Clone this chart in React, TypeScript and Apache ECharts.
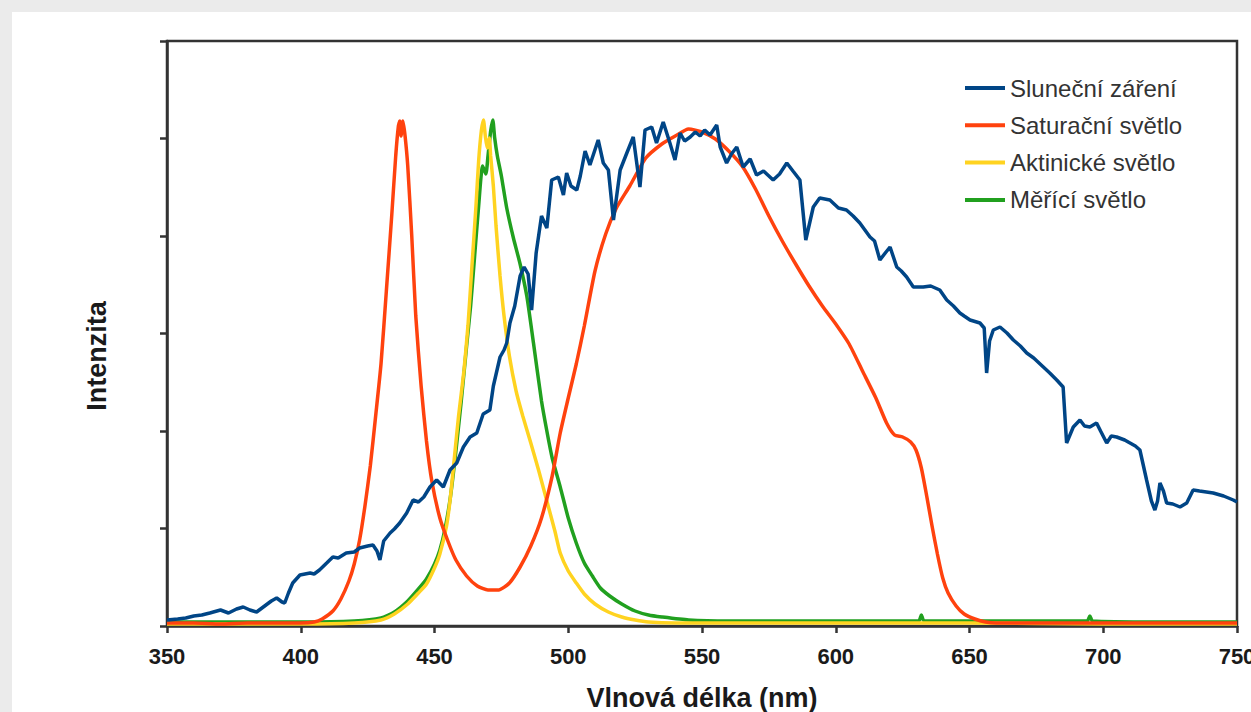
import React, { useEffect, useRef } from "react";
import * as echarts from "echarts";

// Wavelength ticks (nm)
const xTicks = [350, 400, 450, 500, 550, 600, 650, 700, 750];

const seriesNames = ["Sluneční záření", "Saturační světlo", "Aktinické světlo", "Měřící světlo"];

// Intensity (arbitrary units) vs wavelength [nm, value]
const sunData: [number, number][] = [
  [350, 6], [354, 7], [357, 8], [360, 10], [363, 11], [366, 13], [370, 16], [373, 13], [376, 17],
  [378.5, 19], [381, 16], [383.5, 14], [387, 21], [389, 25], [391, 28], [393, 24], [394, 23],
  [395.4, 33], [397, 43], [399.7, 51], [403.5, 53], [405, 52], [407, 56], [409.7, 63], [412, 69],
  [414, 68], [417, 73], [420, 74], [422, 78], [425, 80], [427, 81], [428.5, 75], [429.6, 66],
  [431, 85], [433.4, 93], [435, 97], [437, 103], [439.6, 113], [442, 126], [444, 124], [446, 129],
  [448.3, 139], [450.8, 146], [453.3, 139], [455.8, 156], [458.3, 163], [460.8, 179], [463.3, 189],
  [465.8, 193], [468.2, 212], [470.7, 216], [472, 240], [474.5, 269], [476, 276], [477, 283],
  [478.2, 303], [480, 320], [482, 350], [483.5, 359], [485, 352], [486.3, 316], [488, 373],
  [490, 410], [492, 398], [493.8, 446], [496.3, 449], [498.2, 431], [499.4, 453], [501, 440],
  [503.2, 436], [504.5, 450], [506.3, 475], [508.1, 461], [511.2, 486], [513.1, 463], [515, 456],
  [516.9, 406], [519.4, 456], [521.9, 473], [524.3, 489], [526.8, 439], [528.7, 496], [531.2, 499],
  [533, 483], [535.5, 504], [538, 483], [539.9, 466], [541.8, 493], [543.5, 485], [545.6, 489],
  [547.5, 494], [549.3, 490], [551, 496], [553, 491], [555.5, 501], [556.8, 479], [559.2, 463],
  [561, 472], [563, 479], [565.4, 459], [568, 467], [570.4, 451], [573, 455], [576.6, 446],
  [579, 452], [581.7, 463], [584, 455], [586.6, 446], [588.8, 386], [591.6, 419], [594, 428],
  [597.8, 426], [601, 418], [604, 416], [606.5, 410], [609, 403], [612.8, 389], [614.5, 385],
  [616.5, 366], [618.5, 373], [620.3, 379], [622.8, 359], [624.5, 355], [626.5, 349], [629, 339],
  [632.7, 339], [635.5, 340], [638.9, 336], [641.5, 326], [644, 320], [646.4, 313], [648, 310],
  [650.2, 306], [653.9, 303], [655.5, 298], [656.4, 253], [657.5, 285], [658.9, 296], [661.4, 299],
  [664, 293], [666.4, 286], [669, 280], [671.4, 273], [674, 268], [677.6, 259], [680, 253],
  [682.6, 246], [685, 239], [686.3, 183], [688.8, 199], [691.3, 206], [693, 200], [695, 199],
  [697.5, 203], [699, 195], [701.3, 183], [703, 190], [705, 189], [708, 186], [710, 183],
  [712, 180], [713.7, 176], [716.2, 146], [718, 125], [719.3, 116], [720.3, 125], [721.2, 143],
  [722.5, 135], [723.7, 123], [726, 122], [728.7, 119], [731.2, 123], [733.6, 136], [736, 135],
  [741.1, 133], [745, 130], [748.6, 126], [750, 124],
];

const saturData: [number, number][] = [
  [350, 3], [360, 3], [370, 2], [380, 3], [390, 3], [400, 3], [405, 4], [408, 7], [412, 15],
  [415, 27], [418, 45], [420, 62], [422, 86], [424, 120], [426, 160], [428, 210], [430, 262],
  [432, 335], [434, 410], [435.5, 470], [436.5, 500], [437, 505], [437.5, 490], [438.2, 505],
  [439, 490], [440, 460], [441.5, 390], [443, 310], [445, 240], [447, 185], [449, 145],
  [452, 108], [455, 85], [458, 66], [462, 50], [466, 40], [470, 36], [474, 36], [478, 43],
  [482, 59], [486, 80], [490, 108], [494, 150], [497, 193], [500, 228], [503, 262], [506, 300],
  [510, 355], [514, 392], [518, 418], [523, 440], [529, 468], [535, 482], [540, 490], [545, 497],
  [550, 494], [555, 487], [560, 475], [565, 460], [570, 437], [575, 410], [580, 385], [585, 362],
  [590, 340], [595, 320], [600, 302], [605, 282], [610, 255], [615, 228], [619, 203], [622, 191],
  [625, 189], [628, 184], [630, 176], [632, 158], [634, 130], [636, 100], [638, 72], [640, 48],
  [642, 33], [645, 20], [648, 12], [652, 7], [656, 4], [660, 3], [680, 3], [700, 3], [720, 3],
  [750, 3],
];

const aktinData: [number, number][] = [
  [350, 2], [380, 2], [400, 2], [420, 3], [430, 6], [435, 12], [440, 22], [444, 33], [447, 42],
  [450, 58], [452, 72], [454.5, 100], [456, 130], [457.5, 170], [459, 210], [461, 255],
  [462.5, 300], [464, 360], [465.5, 420], [466.5, 465], [467.5, 495], [468.3, 506], [469, 490],
  [469.7, 478], [470.5, 488], [471, 470], [472, 440], [473, 400], [474.5, 350], [476, 310],
  [478, 270], [480.5, 235], [483, 210], [486, 183], [489, 155], [492, 125], [495, 95], [497, 73],
  [500, 55], [503, 43], [506, 32], [510, 22], [515, 14], [520, 9], [525, 6], [530, 4], [540, 3],
  [560, 3], [600, 3], [650, 3], [700, 2], [750, 2],
];

const merData: [number, number][] = [
  [350, 4], [380, 4], [400, 4], [420, 5], [430, 8], [435, 14], [440, 25], [444, 37], [447, 47],
  [450, 62], [452, 76], [454, 98], [456, 130], [458, 175], [460, 225], [462, 280], [463.5, 320],
  [465, 370], [466.5, 420], [468, 460], [469.2, 452], [470, 470], [471, 495], [471.8, 506],
  [472.5, 488], [473.5, 470], [475, 450], [477, 418], [479.5, 388], [482, 362], [484.5, 330],
  [487, 283], [490, 225], [492, 195], [494, 168], [497, 139], [500, 108], [503, 83], [506, 63],
  [509, 50], [512, 38], [515.5, 30], [520, 22], [525, 15], [530, 11], [535, 9], [545, 6],
  [560, 5], [580, 5], [600, 5], [620, 5], [631, 5], [632, 11], [633, 5], [650, 5], [680, 5],
  [694, 5], [695, 10], [696, 5], [720, 4], [750, 4],
];

const colors = ["#004586", "#ff420e", "#ffd320", "#21a01f"];

export default function App() {
  const ref = useRef<HTMLDivElement>(null);
  useEffect(() => {
    if (!ref.current) return;
    const chart = echarts.init(ref.current, null, { renderer: "svg" });
    const font = "'Liberation Sans', Arial, sans-serif";
    const lw = 3.5;
    chart.setOption({
      animation: false,
      backgroundColor: "#ebebeb",
      textStyle: { fontFamily: font },
      graphic: [
        { type: "rect", z: -10, shape: { x: 12, y: 12, width: 1260, height: 720 }, style: { fill: "#ffffff" } },
        {
          type: "text", x: 97, y: 356, rotation: Math.PI / 2,
          style: { text: "Intenzita", fontFamily: font, fontSize: 27, fontWeight: "bold", fill: "#1a1a1a", align: "center", verticalAlign: "middle" },
        },
      ],
      grid: {
        left: 167, right: 14, top: 41, bottom: 86, show: true, borderColor: "#333", borderWidth: 2.5,
        backgroundColor: "transparent", containLabel: false, outerBoundsMode: "none",
      },
      legend: {
        orient: "vertical", left: 960, top: 71, itemWidth: 40, itemHeight: 4, itemGap: 13.3, icon: "rect",
        data: seriesNames,
        textStyle: { fontFamily: font, fontSize: 24, color: "#333", lineHeight: 24 },
      },
      xAxis: {
        type: "value", min: xTicks[0], max: xTicks[xTicks.length - 1], interval: 50,
        name: "Vlnová délka (nm)", nameLocation: "middle", nameGap: 58,
        nameTextStyle: { fontFamily: font, fontSize: 27, fontWeight: "bold", color: "#1a1a1a" },
        axisLine: { show: true, lineStyle: { color: "#333", width: 2.5 } },
        axisTick: { show: true, length: 7, lineStyle: { color: "#333", width: 2.5 } },
        axisLabel: { show: true, margin: 19, fontFamily: font, fontSize: 22, fontWeight: "bold", color: "#1a1a1a", showMaxLabel: true, showMinLabel: true },
        splitLine: { show: false },
      },
      yAxis: {
        type: "value", min: 0, max: 585, interval: 97.5,
        axisLine: { show: true, lineStyle: { color: "#333", width: 2.5 } },
        axisTick: { show: true, length: 7, lineStyle: { color: "#333", width: 2.5 } },
        axisLabel: { show: false },
        splitLine: { show: false },
      },
      series: [
        { name: seriesNames[3], type: "line", data: merData, showSymbol: false, smooth: 0.2, color: colors[3], lineStyle: { width: lw, color: colors[3] } },
        { name: seriesNames[2], type: "line", data: aktinData, showSymbol: false, smooth: 0.2, color: colors[2], lineStyle: { width: lw, color: colors[2] } },
        { name: seriesNames[1], type: "line", data: saturData, showSymbol: false, smooth: 0.2, color: colors[1], lineStyle: { width: lw, color: colors[1] } },
        { name: seriesNames[0], type: "line", data: sunData, showSymbol: false, color: colors[0], lineStyle: { width: lw, color: colors[0] } },
      ],
    });
    return () => chart.dispose();
  }, []);
  return <div ref={ref} style={{ position: "fixed", left: 0, top: 0, width: 1251, height: 712 }} />;
}
